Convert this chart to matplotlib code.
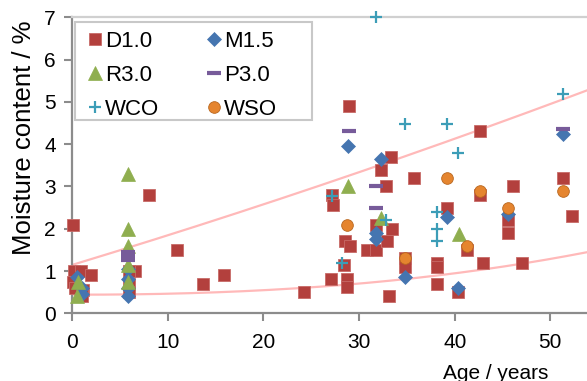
import numpy as np
import matplotlib
matplotlib.use("Agg")
import matplotlib.pyplot as plt
from matplotlib.patches import Rectangle

plt.rcParams['font.family'] = ['Liberation Sans', 'DejaVu Sans']

# ---------------- data ----------------
d10_x = [0.1, 0.2, 0.9, 2.0, 0.1, 0.3, 1.1, 1.0, 6.6, 5.9, 5.9, 5.9,
         8.0, 11.0, 13.7, 15.9, 24.2,
         27.2, 27.3, 27.1, 28.7, 28.7, 28.4, 28.5, 29.1, 28.9,
         30.8, 31.8, 31.8, 32.9, 33.4, 32.3, 33.3, 32.8, 33.1,
         34.8, 34.8, 35.7,
         38.2, 38.2, 38.2, 39.2, 40.3, 41.3, 42.6, 42.6, 43.0, 45.6, 45.6,
         46.1, 47.0, 51.3, 52.3]
d10_y = [2.1, 1.0, 1.0, 0.9, 0.75, 0.6, 0.55, 0.4, 1.0, 1.0, 0.7, 0.5,
         2.8, 1.5, 0.7, 0.9, 0.5,
         2.8, 2.55, 0.8, 0.8, 0.62, 1.15, 1.7, 1.6, 4.9,
         1.5, 1.5, 2.1, 1.7, 2.0, 3.4, 3.7, 3.0, 0.4,
         1.3, 1.1, 3.2,
         1.2, 1.1, 0.7, 2.5, 0.5, 1.5, 2.8, 4.3, 1.2, 2.2, 1.9,
         3.0, 1.2, 3.2, 2.3]

m15_x = [0.5, 1.0, 1.0, 5.8, 5.8, 5.8, 5.8, 28.8, 32.3, 31.8, 31.8, 34.8,
         39.2, 40.3, 45.6, 51.3]
m15_y = [0.85, 0.6, 0.45, 1.05, 0.8, 0.6, 0.4, 3.96, 3.66, 1.9, 1.75, 0.87,
         2.28, 0.59, 2.36, 4.25]

r30_x = [0.6, 0.5, 5.8, 5.8, 5.8, 5.8, 5.8, 28.8, 32.3, 40.5]
r30_y = [0.75, 0.4, 3.3, 2.0, 1.6, 1.15, 0.75, 3.0, 2.25, 1.88]

p30_x = [5.8, 5.8, 5.8, 28.9, 31.8, 31.8, 51.3]
p30_y = [1.45, 1.36, 1.27, 4.3, 3.0, 2.5, 4.35]

wco_x = [31.8, 34.8, 39.2, 40.3, 51.3, 27.2, 32.8, 28.2, 38.2, 38.2, 38.2]
wco_y = [7.0, 4.47, 4.47, 3.78, 5.18, 2.78, 2.2, 1.2, 2.4, 2.0, 1.7]

wso_x = [28.7, 34.8, 39.2, 42.6, 45.6, 41.3, 51.3]
wso_y = [2.09, 1.3, 3.2, 2.89, 2.5, 1.6, 2.89]

# trend line anchor points
trend_hi_x = [0.0, 22.7, 26.0, 40.0, 53.8]
trend_hi_y = [1.14, 2.80, 3.03, 4.10, 5.28]
trend_lo_x = [0.0, 7.1, 28.0, 34.3, 46.5, 53.8]
trend_lo_y = [0.43, 0.47, 0.65, 0.79, 1.18, 1.43]

xticks = [0, 10, 20, 30, 40, 50]
yticks = [0, 1, 2, 3, 4, 5, 6, 7]

# ---------------- figure ----------------
W, H = 587, 381
fig = plt.figure(figsize=(W / 100, H / 100), dpi=100)
x0, xr, y0, yt = 72.3, 587.0, 313.3, 17.3
ax = fig.add_axes([x0 / W, 1 - y0 / H, (xr - x0) / W, (y0 - yt) / H])
ax.set_xlim(0, 53.84)
ax.set_ylim(0, 7)

# trend lines
xx = np.linspace(0, 53.84, 200)
c_hi = np.polyfit(trend_hi_x, trend_hi_y, 2)
c_lo = np.polyfit(trend_lo_x, trend_lo_y, 3)
ax.plot(xx, np.polyval(c_hi, xx), color='#FFB9B9', lw=1.6, zorder=1)
ax.plot(xx, np.polyval(c_lo, xx), color='#FFB9B9', lw=1.6, zorder=1)

kw = dict(linestyle='none', clip_on=False)
hD, = ax.plot(d10_x, d10_y, marker='s', ms=9.2, color='#B3403D', mec='#C86B68', mew=0.6,
              label='D1.0', zorder=3, **kw)
hM, = ax.plot(m15_x, m15_y, marker='D', ms=6.8, color='#4575B0', mec='#4575B0', mew=0.5,
              label='M1.5', zorder=4, **kw)
hR, = ax.plot(r30_x, r30_y, marker='^', ms=9.6, color='#8FAE4F', mec='#8FAE4F', mew=0.5,
              label='R3.0', zorder=5, **kw)
hP, = ax.plot(p30_x, p30_y, marker='_', ms=9.6, color='#775B9A', mew=3.0,
              label='P3.0', zorder=6, **kw)
hC, = ax.plot(wco_x, wco_y, marker='+', ms=8.6, color='#3C9DB7', mew=1.6,
              label='WCO', zorder=7, **kw)
hS, = ax.plot(wso_x, wso_y, marker='o', ms=8.4, color='#E5852F', mec='#B9671F', mew=0.6,
              label='WSO', zorder=8, **kw)

# axes styling
ax.spines['right'].set_visible(False)
ax.spines['top'].set_color('#D0D0D0')
ax.spines['top'].set_linewidth(1.6)
for s in ['left', 'bottom']:
    ax.spines[s].set_color('#8C8C8C')
    ax.spines[s].set_linewidth(1.6)
ax.set_xticks(xticks)
ax.set_yticks(yticks)
ax.tick_params(axis='both', which='major', direction='out', length=6, width=1.5,
               color='#8C8C8C', labelsize=15, labelcolor='black')
ax.tick_params(axis='y', pad=6)
ax.tick_params(axis='x', pad=8)

ax.set_xlabel('Age / years', fontsize=15)
ax.xaxis.set_label_coords(0.823, -0.172)
ax.set_ylabel('Moisture content / %', fontsize=18.5, va='center')
ax.yaxis.set_label_coords(-0.093, 0.592)

# legend frame and legend (row-major order like the reference)
frame = Rectangle((75 / W, 1 - 120 / H), (311.7 - 75) / W, (120 - 21.7) / H,
                  transform=fig.transFigure, facecolor='white',
                  edgecolor='#C8C8C8', lw=1.5, zorder=9, clip_on=False)
ax.add_patch(frame)
handles = [hD, hR, hC, hM, hP, hS]
leg = ax.legend(handles, [h.get_label() for h in handles],
                loc='upper left', bbox_to_anchor=(75 / W, 1 - 21.7 / H),
                bbox_transform=fig.transFigure, borderaxespad=0, borderpad=0.4,
                ncol=2, frameon=False, handlelength=1.0, handletextpad=-0.05,
                columnspacing=1.95, labelspacing=0.6, fontsize=16, numpoints=1)
leg.set_zorder(10)

fig.savefig('out.png', dpi=100)
